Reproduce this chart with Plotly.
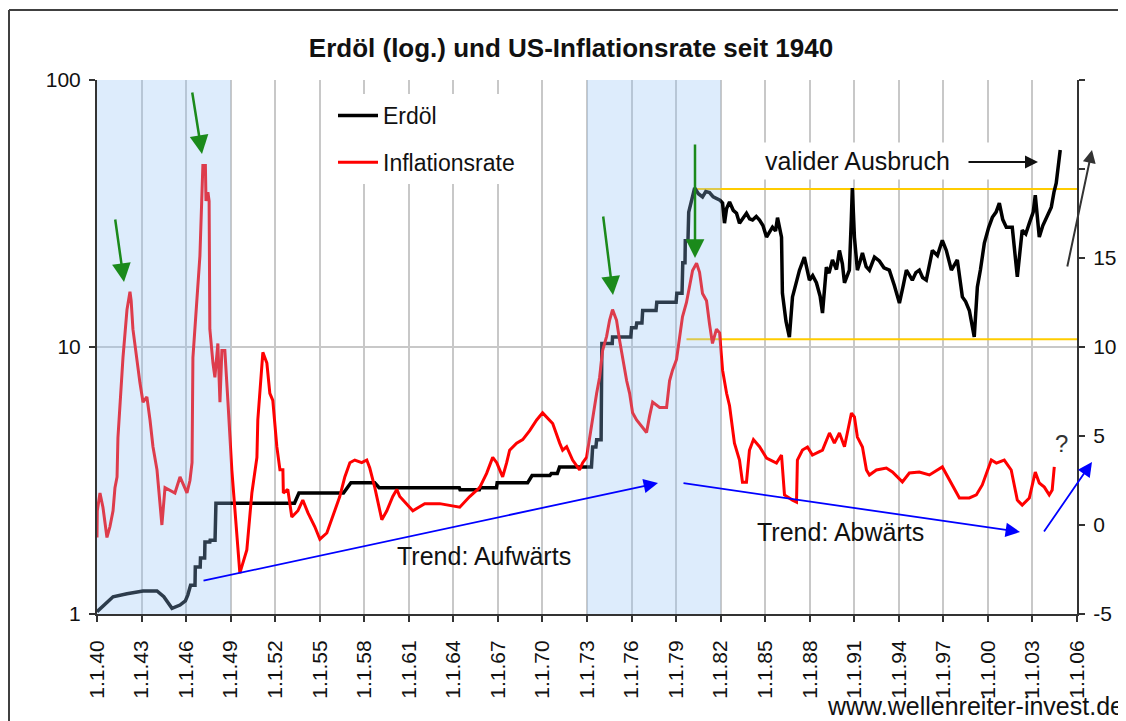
import plotly.graph_objects as go

# ---------------- data ----------------
oil_years = [1940.00, 1941.08, 1942.02, 1943.10, 1944.04, 1944.50, 1945.05, 1945.59, 1945.95, 1946.12,
             1946.30, 1946.60, 1946.62, 1946.95, 1946.97, 1947.25, 1947.27, 1947.60, 1947.62, 1947.95,
             1948.01, 1953.30, 1953.60, 1956.60, 1957.10, 1958.70, 1959.00, 1964.40, 1964.45, 1965.75,
             1965.80, 1966.90, 1966.95, 1969.00, 1969.30, 1970.50, 1970.60, 1971.00, 1971.15, 1973.30,
             1973.38, 1973.60, 1973.65, 1973.95, 1974.00, 1974.70, 1974.72, 1975.95, 1976.00, 1976.30,
             1976.35, 1976.70, 1976.75, 1977.65, 1977.70, 1979.00, 1979.05, 1979.40, 1979.45, 1979.60,
             1979.62, 1979.80, 1979.85, 1980.05, 1980.25, 1980.50, 1980.78, 1981.00, 1981.25, 1981.50,
             1981.72, 1981.95, 1982.13, 1982.26, 1982.40, 1982.60, 1982.85, 1983.07, 1983.27, 1983.50,
             1983.74, 1983.95, 1984.15, 1984.40, 1984.62, 1984.85, 1985.09, 1985.30, 1985.49, 1985.70,
             1985.83, 1986.10, 1986.16, 1986.40, 1986.63, 1986.84, 1987.10, 1987.31, 1987.64, 1987.80,
             1987.98, 1988.20, 1988.45, 1988.70, 1988.86, 1989.12, 1989.30, 1989.53, 1989.80, 1990.00,
             1990.20, 1990.34, 1990.67, 1990.80, 1990.87, 1991.01, 1991.21, 1991.40, 1991.55, 1991.80,
             1992.02, 1992.36, 1992.69, 1993.00, 1993.36, 1993.70, 1994.04, 1994.30, 1994.51, 1994.91,
             1995.15, 1995.38, 1995.60, 1995.85, 1996.26, 1996.60, 1996.93, 1997.20, 1997.54, 1997.94,
             1998.28, 1998.50, 1998.75, 1999.08, 1999.29, 1999.50, 1999.76, 2000.05, 2000.30, 2000.55,
             2000.77, 2001.00, 2001.24, 2001.64, 2001.85, 2001.98, 2002.31, 2002.55, 2002.79, 2003.05,
             2003.19, 2003.46, 2003.70, 2003.93, 2004.10, 2004.27, 2004.45, 2004.60, 2004.87]
oil_values = [1.02, 1.16, 1.19, 1.22, 1.22, 1.16, 1.05, 1.08, 1.12, 1.18,
              1.28, 1.28, 1.50, 1.50, 1.62, 1.62, 1.86, 1.86, 1.89, 1.89,
              2.60, 2.60, 2.84, 2.84, 3.10, 3.10, 2.97, 2.97, 2.92, 2.92,
              2.97, 2.97, 3.10, 3.10, 3.30, 3.30, 3.36, 3.36, 3.55, 3.55,
              4.22, 4.22, 4.49, 4.49, 10.3, 10.3, 10.9, 10.9, 11.8, 11.8,
              12.3, 12.3, 13.7, 13.7, 14.7, 14.7, 15.9, 15.9, 20.7, 20.7,
              25.0, 25.0, 32.0, 36.0, 39.4, 37.5, 36.5, 38.2, 37.9, 36.5,
              36.1, 35.5, 34.6, 29.1, 33.0, 34.9, 32.5, 31.7, 29.1, 30.5,
              31.7, 30.2, 29.9, 30.8, 29.9, 28.5, 25.8, 27.0, 28.1, 27.2,
              30.5, 25.8, 15.9, 12.5, 10.9, 15.4, 17.5, 19.4, 21.7, 19.8,
              17.8, 18.5, 17.4, 15.5, 13.4, 19.9, 18.9, 21.2, 19.5, 23.0,
              20.5, 17.4, 19.4, 30.0, 39.4, 25.8, 19.4, 21.0, 22.5, 20.0,
              19.4, 21.7, 21.0, 19.8, 19.4, 17.0, 14.6, 17.0, 19.4, 17.8,
              19.0, 19.4, 18.2, 17.8, 23.0, 22.0, 25.1, 23.0, 19.4, 21.2,
              15.4, 14.8, 13.7, 10.9, 16.8, 19.5, 24.5, 28.0, 30.6, 32.0,
              34.6, 30.0, 28.1, 28.1, 22.0, 18.3, 27.4, 26.5, 29.1, 32.0,
              37.0, 25.8, 28.5, 30.6, 32.0, 33.4, 38.0, 41.1, 54.7]

infl_years = [1940.00, 1940.02, 1940.20, 1940.40, 1940.67, 1940.87, 1941.08, 1941.21, 1941.35, 1941.41,
              1941.75, 1942.02, 1942.22, 1942.30, 1942.42, 1942.69, 1942.89, 1943.10, 1943.36, 1943.57,
              1943.77, 1944.04, 1944.37, 1944.58, 1945.25, 1945.59, 1946.06, 1946.26, 1946.40, 1946.46,
              1946.73, 1946.93, 1947.13, 1947.30, 1947.34, 1947.47, 1947.55, 1947.60, 1947.81, 1947.94,
              1948.14, 1948.28, 1948.41, 1948.61, 1948.82, 1949.08, 1949.62, 1950.09, 1950.43, 1950.77,
              1950.83, 1951.10, 1951.17, 1951.44, 1951.64, 1951.84, 1952.11, 1952.32, 1952.52, 1952.55,
              1952.85, 1953.12, 1953.53, 1953.86, 1954.20, 1954.67, 1955.01, 1955.48, 1955.88, 1956.35,
              1956.69, 1957.03, 1957.36, 1957.83, 1958.17, 1958.37, 1958.71, 1959.18, 1959.52, 1959.92,
              1960.19, 1960.39, 1961.27, 1962.07, 1963.08, 1964.43, 1965.10, 1965.77, 1966.24, 1966.58,
              1966.65, 1966.92, 1967.32, 1967.59, 1967.79, 1968.26, 1968.67, 1969.14, 1969.61, 1970.01,
              1970.48, 1970.69, 1971.16, 1971.36, 1971.63, 1972.03, 1972.50, 1972.71, 1972.97, 1973.18,
              1973.38, 1973.65, 1973.85, 1974.05, 1974.32, 1974.52, 1974.72, 1974.99, 1975.19, 1975.40,
              1975.67, 1975.87, 1976.07, 1976.34, 1976.74, 1977.01, 1977.21, 1977.42, 1977.89, 1978.36,
              1978.56, 1978.76, 1979.03, 1979.23, 1979.43, 1979.70, 1979.91, 1980.11, 1980.38, 1980.58,
              1980.78, 1981.05, 1981.25, 1981.45, 1981.72, 1981.93, 1982.13, 1982.40, 1982.60, 1982.93,
              1983.27, 1983.47, 1983.74, 1983.94, 1984.21, 1984.62, 1985.09, 1985.76, 1986.10, 1986.16,
              1986.30, 1986.84, 1987.11, 1987.17, 1987.51, 1987.85, 1988.18, 1988.86, 1989.33, 1989.66,
              1990.00, 1990.34, 1990.81, 1991.01, 1991.21, 1991.55, 1991.82, 1992.02, 1992.49, 1993.16,
              1993.57, 1994.24, 1994.71, 1995.38, 1996.06, 1996.93, 1997.40, 1998.08, 1998.75, 1999.22,
              1999.62, 2000.23, 2000.57, 2001.10, 2001.57, 2001.98, 2002.31, 2002.79, 2003.19, 2003.46,
              2003.80, 2004.13, 2004.33, 2004.47]
infl_values = [-0.7, 0.8, 1.8, 1.0, -0.7, -0.1, 0.8, 2.1, 2.7, 4.9,
               9.4, 12.1, 13.1, 12.6, 11.0, 9.1, 8.0, 6.9, 7.2, 5.9,
               4.4, 3.1, 0.0, 2.1, 1.8, 2.7, 1.8, 2.5, 3.5, 9.4,
               12.8, 15.1, 20.2, 20.2, 18.2, 18.7, 18.2, 11.0, 9.1, 8.3,
               10.2, 6.9, 9.8, 9.8, 6.9, 3.1, -2.7, -1.4, 1.8, 3.8,
               5.9, 9.1, 9.7, 9.1, 7.4, 7.0, 4.4, 3.1, 3.1, 1.8,
               2.0, 0.45, 0.8, 1.4, 0.7, -0.1, -0.8, -0.45, 0.45, 1.6,
               2.7, 3.5, 3.65, 3.5, 3.65, 3.2, 2.1, 0.3, 0.8, 1.6,
               2.0, 1.6, 0.8, 1.2, 1.2, 1.0, 1.6, 2.1, 2.9, 3.65,
               3.8, 3.5, 2.7, 3.5, 4.2, 4.6, 4.8, 5.3, 5.9, 6.3,
               5.9, 5.7, 4.6, 4.2, 4.4, 3.65, 3.1, 3.5, 3.8, 5.0,
               6.1, 7.4, 8.3, 9.8, 10.6, 11.5, 12.1, 11.5, 10.4, 9.3,
               8.1, 7.4, 6.3, 5.9, 5.5, 5.2, 6.1, 6.9, 6.6, 6.6,
               8.1, 8.7, 9.3, 10.4, 11.7, 12.5, 13.4, 14.3, 14.7, 14.2,
               13.0, 12.6, 11.3, 10.2, 11.0, 10.8, 8.7, 7.4, 6.7, 4.6,
               3.65, 2.4, 2.4, 4.2, 4.8, 4.4, 3.76, 3.48, 3.93, 3.26,
               1.69, 1.40, 1.29, 3.65, 4.21, 4.38, 3.93, 4.21, 5.17, 4.6,
               5.17, 4.4, 6.29, 6.07, 4.94, 4.38, 3.09, 2.81, 3.09, 3.2,
               2.98, 2.42, 2.92, 2.98, 2.81, 3.26, 2.53, 1.52, 1.52, 1.69,
               2.25, 3.65, 3.48, 3.65, 3.09, 1.40, 1.12, 1.52, 2.98, 2.36,
               2.13, 1.69, 1.97, 3.26]

tick_years = list(range(1940, 2007, 3))
tick_labels = ["1.1.%02d" % (y % 100) for y in tick_years]
left_ticks = [1, 10, 100]
left_labels = ["1", "10", "100"]
right_ticks = [-5, 0, 5, 10, 15, 20, 25]
right_labels = ["-5", "0", "5", "10", "15", "", ""]

shade_periods = [(1940, 1949), (1973, 1982)]
resistance = {"start": 1980.4, "level": 39.1}
support = {"start": 1979.7, "level": 10.7}

# ---------------- geometry (layout only) ----------------
OFF = 8                      # page offset of the figure inside the browser window
W, H = 1118, 713
L, T = 89, 72
PW, PH = 980, 534
R = W - L - PW
B = H - T - PH


def px(xs):
    """screen x -> paper x"""
    return (xs - OFF - L) / PW


def py(ys):
    """screen y -> paper y"""
    return (T + PH - (ys - OFF)) / PH


FONT = "Liberation Sans, Arial, sans-serif"

fig = go.Figure()

fig.add_trace(go.Scatter(x=[resistance["start"], 2006], y=[resistance["level"]] * 2,
                         mode="lines", line=dict(color="#FFCC00", width=2),
                         showlegend=False, hoverinfo="skip", yaxis="y"))
fig.add_trace(go.Scatter(x=[support["start"], 2006], y=[support["level"]] * 2,
                         mode="lines", line=dict(color="#FFCC00", width=2),
                         showlegend=False, hoverinfo="skip", yaxis="y"))
fig.add_trace(go.Scatter(x=oil_years, y=oil_values, name="Erdöl", mode="lines",
                         line=dict(color="black", width=3.5), yaxis="y",
                         legendgroup="a"))
fig.add_trace(go.Scatter(x=infl_years, y=infl_values, name="Inflationsrate", mode="lines",
                         line=dict(color="#FF0000", width=3), yaxis="y2",
                         legendgroup="b"))

shapes = []
for a, b in shade_periods:
    shapes.append(dict(type="rect", xref="x", yref="paper", x0=a, x1=b, y0=0, y1=1,
                       fillcolor="rgba(145,194,245,0.31)", line=dict(width=0), layer="above"))
# outer frame (only the left and top edges are visible in the picture)
frame_col = dict(color="#404040", width=2)
shapes.append(dict(type="line", xref="paper", yref="paper", x0=px(9), x1=px(1140),
                   y0=py(10), y1=py(10), line=frame_col, layer="below"))
shapes.append(dict(type="line", xref="paper", yref="paper", x0=px(9), x1=px(9),
                   y0=py(10), y1=py(740), line=frame_col, layer="below"))

annotations = []


def arrow(head, tail, color, width, size=1.0, head_style=2):
    annotations.append(dict(xref="paper", yref="paper", x=px(head[0]), y=py(head[1]),
                            ax=tail[0] - head[0], ay=tail[1] - head[1], text="",
                            showarrow=True, arrowhead=head_style, arrowsize=size,
                            arrowwidth=width, arrowcolor=color, standoff=0))


# white box behind "valider Ausbruch"
annotations.append(dict(xref="paper", yref="paper", x=px(760), y=py(161), xanchor="left",
                        yanchor="middle", text="valider Ausbruch" + "\u00a0" * 10,
                        showarrow=False, bgcolor="white", borderpad=4,
                        font=dict(family=FONT, size=25, color="#111")))
green = "#1b8a1b"
arrow((124, 282), (115, 218), green, 2.5, 1.5)
arrow((202, 154), (192, 91), green, 2.5, 1.5)
arrow((613, 295), (603, 215), green, 2.5, 1.5)
arrow((695, 258), (695, 143), green, 2.5, 1.5)
blue = "#0000FF"
arrow((658, 483), (202, 581), blue, 1.8, 1.6)
arrow((1020, 532), (682, 483), blue, 1.8, 1.6)
arrow((1092, 462), (1043, 533), blue, 1.8, 1.6)
arrow((1038, 162), (967, 162), "#111", 2, 1.3)
arrow((1092, 150), (1067, 268), "#333", 2, 1.3)

for txt, xx, yy in [("Trend: Aufwärts", 484, 556), ("Trend: Abwärts", 840, 532)]:
    annotations.append(dict(xref="paper", yref="paper", x=px(xx), y=py(yy), text=txt,
                            showarrow=False, xanchor="center", yanchor="middle",
                            font=dict(family=FONT, size=25, color="#111")))
annotations.append(dict(xref="paper", yref="paper", x=px(1070), y=py(459), text="?",
                        showarrow=False, font=dict(family=FONT, size=24, color="#333")))
annotations.append(dict(xref="paper", yref="paper", x=px(1126), y=py(706),
                        text="www.wellenreiter-invest.de", showarrow=False,
                        xanchor="right", yanchor="middle",
                        font=dict(family=FONT, size=25, color="#111")))

axis_common = dict(showline=True, linecolor="#333", linewidth=2, ticks="outside",
                   ticklen=6, tickcolor="#333", tickwidth=2,
                   tickfont=dict(family=FONT, size=21, color="#111"))

fig.update_layout(
    width=W, height=H, autosize=False,
    margin=dict(l=L, r=R, t=T, b=B, autoexpand=False),
    paper_bgcolor="white", plot_bgcolor="white",
    font=dict(family=FONT, color="#111"),
    title=dict(text="<b>Erdöl (log.) und US-Inflationsrate seit 1940</b>",
               x=(571 - OFF) / W, xanchor="center", y=1 - (48 - OFF) / H, yanchor="middle",
               font=dict(family=FONT, size=26, color="#111")),
    xaxis=dict(range=[1940, 2006], tickvals=tick_years, ticktext=tick_labels,
               tickangle=-90, showgrid=True, gridcolor="#C8C8C8", gridwidth=2,
               zeroline=False, ticklabelstandoff=10, **axis_common),
    yaxis=dict(type="log", range=[0, 2], tickvals=left_ticks, ticktext=left_labels,
               showgrid=True, gridcolor="#C8C8C8", gridwidth=2, zeroline=False,
               ticklabelstandoff=4, **axis_common),
    yaxis2=dict(overlaying="y", side="right", range=[-5, 25], tickvals=right_ticks,
                ticktext=right_labels, showgrid=False, zeroline=False,
                ticklabelstandoff=4, **axis_common),
    legend=dict(x=px(333), y=py(94), xanchor="left", yanchor="top", bgcolor="white",
                font=dict(family=FONT, size=23, color="#111"), traceorder="grouped",
                tracegroupgap=14, itemwidth=40),
    shapes=shapes, annotations=annotations,
    showlegend=True,
)

fig.write_html("out.html")
